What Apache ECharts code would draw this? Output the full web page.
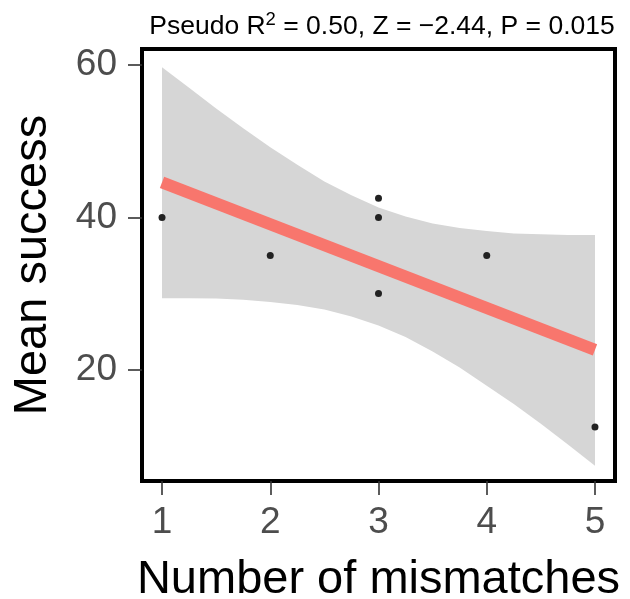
<!DOCTYPE html>
<html>
<head>
<meta charset="utf-8">
<script src="https://cdn.jsdelivr.net/npm/echarts@6/dist/echarts.min.js"></script>
<style>
html,body{margin:0;padding:0;background:#fff;}
#chart{width:630px;height:599px;}
</style>
</head>
<body>
<div id="chart"></div>
<script>
// Observed points
var mismatches = [1, 2, 3, 3, 3, 4, 5];
var meanSuccess = [40, 35, 42.5, 40, 30, 35, 12.5];

// Fitted line (endpoints)
var fitX = [1, 5];
var fitY = [44.6, 22.6];

// Confidence band
var bandX     = [1, 1.25, 1.5, 1.75, 2, 2.25, 2.5, 2.75, 3, 3.25, 3.5, 3.75, 4, 4.25, 4.5, 4.75, 5];
var bandUpper = [59.7, 57.0, 54.3, 51.7, 49.2, 46.9, 44.7, 42.9, 41.3, 40.1, 39.2, 38.6, 38.2, 37.9, 37.8, 37.7, 37.7];
var bandLower = [29.4, 29.4, 29.35, 29.2, 28.9, 28.5, 27.9, 27.0, 25.8, 24.3, 22.4, 20.3, 17.9, 15.5, 12.9, 10.2, 7.4];

// Tick labels
var xTicks = [1, 2, 3, 4, 5];
var yTicks = [20, 40, 60];

var FONT = '"Liberation Sans", Arial, Helvetica, sans-serif';

var chart = echarts.init(document.getElementById('chart'), null, {renderer: 'canvas'});

var pointData = mismatches.map(function (x, i) { return [x, meanSuccess[i]]; });
var fitData = fitX.map(function (x, i) { return [x, fitY[i]]; });

var option = {
  animation: false,
  backgroundColor: '#fff',
  title: {
    text: '{a|Pseudo R}{s|2}{a| = 0.50, Z = \u22122.44, P = 0.015}',
    left: 377,
    top: 6,
    textAlign: 'center',
    textStyle: {
      fontFamily: FONT,
      fontWeight: 'normal',
      rich: {
        a: {fontSize: 26.5, fontFamily: FONT, fontWeight: 'normal', color: '#000', lineHeight: 32},
        s: {fontSize: 18.5, fontFamily: FONT, fontWeight: 'normal', color: '#000', lineHeight: 32, padding: [0, 0, 14, 0]}
      }
    }
  },
  grid: {
    left: 142, right: 15, top: 49, bottom: 118,
    outerBoundsMode: 'none',
    containLabel: false,
    show: true, borderColor: '#000', borderWidth: 4, backgroundColor: 'transparent'
  },
  xAxis: {
    type: 'value',
    min: 0.815, max: 5.185,
    name: 'Number of mismatches',
    nameLocation: 'middle',
    nameGap: 76,
    nameTextStyle: {fontFamily: FONT, fontSize: 47, color: '#000'},
    axisLine: {show: false},
    splitLine: {show: false},
    axisTick: {show: true, inside: false, length: 14, lineStyle: {color: '#333', width: 1.6}, customValues: xTicks},
    axisLabel: {show: true, margin: 23, fontFamily: FONT, fontSize: 37, color: '#4D4D4D', customValues: xTicks}
  },
  yAxis: {
    type: 'value',
    min: 5.4, max: 62.1,
    name: 'Mean success',
    nameLocation: 'middle',
    nameGap: 85,
    nameTextStyle: {fontFamily: FONT, fontSize: 47, color: '#000'},
    axisLine: {show: false},
    splitLine: {show: false},
    axisTick: {show: true, inside: false, length: 14, lineStyle: {color: '#333', width: 1.6}, customValues: yTicks},
    axisLabel: {show: true, margin: 25, fontFamily: FONT, fontSize: 37, color: '#4D4D4D', customValues: yTicks}
  },
  series: [
    {
      type: 'custom',
      z: 1,
      silent: true,
      data: [[bandX[0], bandUpper[0]]],
      renderItem: function (params, api) {
        var pts = [];
        for (var i = 0; i < bandX.length; i++) pts.push(api.coord([bandX[i], bandUpper[i]]));
        for (var j = bandX.length - 1; j >= 0; j--) pts.push(api.coord([bandX[j], bandLower[j]]));
        return {type: 'polygon', shape: {points: pts}, style: {fill: '#D6D6D6', stroke: null}};
      }
    },
    {
      type: 'line',
      z: 2,
      data: fitData,
      symbol: 'none',
      lineStyle: {color: '#F8766D', width: 12, cap: 'butt'},
      silent: true
    },
    {
      type: 'scatter',
      z: 3,
      data: pointData,
      symbol: 'circle',
      symbolSize: 7,
      itemStyle: {color: '#222', opacity: 1},
      silent: true
    }
  ]
};
chart.setOption(option);
</script>
</body>
</html>
